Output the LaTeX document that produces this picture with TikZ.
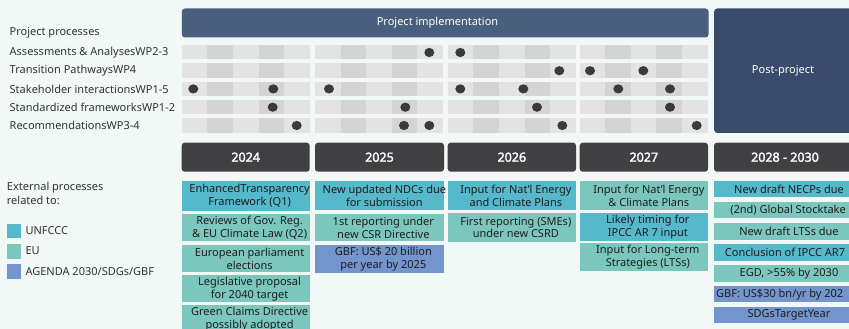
\documentclass[tikz,border=0pt]{standalone}
\usepackage{fontspec}
\setmainfont{Noto Sans}
\newfontfamily\yrfont[FakeBold=2.2]{Noto Sans}
\usetikzlibrary{calc}
\definecolor{bgc}{HTML}{F2F8F6}
\definecolor{cellA}{HTML}{E3E3E3}
\definecolor{cellB}{HTML}{D4D4D4}
\definecolor{hdrc}{HTML}{4A5E7D}
\definecolor{postc}{HTML}{394B6A}
\definecolor{yrc}{HTML}{414042}
\definecolor{unf}{HTML}{55B8CB}
\definecolor{euc}{HTML}{7CC7BD}
\definecolor{agd}{HTML}{7394CC}
\definecolor{dotcol}{HTML}{3A3A3A}
\definecolor{labc}{HTML}{333333}
\definecolor{boxc}{HTML}{1E1E1E}
\tikzset{
  lab/.style={font=\fontsize{11}{13}\selectfont, text=labc, anchor=west, inner sep=0},
  btxt/.style={font=\fontsize{11}{13}\selectfont, text=boxc, align=center, inner sep=0},
  ebx/.style={inner sep=0, anchor=north west, outer sep=0},
  yrbox/.style={fill=yrc, rounded corners=3pt, inner sep=0, outer sep=0, anchor=north west,
    minimum height=29, text=white, font=\fontsize{12.5}{14}\selectfont\yrfont},
  legsq/.style={inner sep=0, minimum size=14.5, anchor=north west},
  pdot/.style={fill=dotcol}
}
% name, colour, x, y, width, height, text dx, text
\newcommand{\exbox}[8]{%
  \node[ebx, fill=#2, minimum width=#5, minimum height=#6] (#1) at (#3,#4) {};
  \node[btxt] (#1t) at ($(#1.center)+(#7,0)$) {#8};}
\begin{document}
\begin{tikzpicture}[x=1pt,y=-1pt]
\useasboundingbox (0,0) rectangle (849,329);
\clip (0,0) rectangle (849,329);
\fill[bgc] (-2,-2) rectangle (851,331);

% headers
\node[fill=hdrc, rounded corners=3pt, anchor=north west, inner sep=0,
  minimum width=526.6, minimum height=29] (impl) at (181.7,8.3) {};
\node[font=\fontsize{11}{13}\selectfont, text=white, inner sep=0] (implt) at (437.5,22.5) {Project implementation};
\node[fill=postc, rounded corners=3pt, anchor=north west, inner sep=0,
  minimum width=160, minimum height=124.4] (post) at (714,8.3) {};
\node[font=\fontsize{11}{13}\selectfont, text=white, inner sep=0] (postt) at (783,71) {Post-project};

% grid cells
\foreach \cx in {181.7,315,447.7,579.5}{
  \foreach \ry in {45,63.3,81.7,100,118.3}{
    \foreach \k in {0,...,4}{
      \pgfmathsetmacro{\xa}{\cx+\k*25.6}
      \pgfmathsetmacro{\xb}{\cx+(\k+1)*25.6}
      \pgfmathparse{mod(\k,2)==1 ? 1 : 0}
      \ifnum\pgfmathresult=1
        \fill[cellB] (\xa,\ry) rectangle (\xb,\ry+14.4);
      \else
        \fill[cellA] (\xa,\ry) rectangle (\xb,\ry+14.4);
      \fi
    }
  }
}

% dots
\foreach \x in {429.3,460.3}{\fill[pdot] (\x,52.5) ellipse (5 and 4.6);}
\foreach \x in {559.3,590,643.3}{\fill[pdot] (\x,70.7) ellipse (5 and 4.6);}
\foreach \x in {193.3,273.3,329,460.3,523.3,618.3,670}{\fill[pdot] (\x,88.9) ellipse (5 and 4.6);}
\foreach \x in {272.7,405.3,537,670}{\fill[pdot] (\x,107.2) ellipse (5 and 4.6);}
\foreach \x in {296.7,404,429.3,562.3,696.7}{\fill[pdot] (\x,125.5) ellipse (5 and 4.6);}

% left labels
\node[lab] (pp) at (9.5,33) {Project processes};
\node[lab] (r1) at (9.5,52.5) {Assessments \& AnalysesWP2-3};
\node[lab] (r2) at (9.5,70.7) {Transition PathwaysWP4};
\node[lab] (r3) at (9.5,88.9) {Stakeholder interactionsWP1-5};
\node[lab] (r4) at (9.5,107.2) {Standardized frameworksWP1-2};
\node[lab] (r5) at (9.5,125.5) {RecommendationsWP3-4};

\node[lab] (ext1) at (6.7,187.3) {External processes};
\node[lab] (ext2) at (6.7,200.7) {related to:};
\node[legsq, fill=unf] (lg1) at (6.7,223.5) {};
\node[legsq, fill=euc] (lg2) at (6.7,244) {};
\node[legsq, fill=agd] (lg3) at (6.7,264.2) {};
\node[lab] (lg1t) at (25.3,230.5) {UNFCCC};
\node[lab] (lg2t) at (25.3,251) {EU};
\node[lab] (lg3t) at (25.3,271.5) {AGENDA 2030/SDGs/GBF};

% year headers
\node[yrbox, minimum width=128] (y1) at (181.7,142.7) {2024};
\node[yrbox, minimum width=129] (y2) at (315,142.7) {2025};
\node[yrbox, minimum width=128.3] (y3) at (447.7,142.7) {2026};
\node[yrbox, minimum width=128.3] (y4) at (579.7,142.7) {2027};
\node[yrbox, minimum width=142] (y5) at (714,142.7) {2028 - 2030};

% 2024
\exbox{e1a}{unf}{181.7}{181}{127.8}{29.7}{4}{EnhancedTransparency\\Framework (Q1)}
\exbox{e1b}{euc}{181.7}{214}{127.8}{27.3}{4}{Reviews of Gov. Reg.\\\& EU Climate Law (Q2)}
\exbox{e1c}{euc}{181.7}{244.7}{127.8}{27.6}{4}{European parliament\\elections}
\exbox{e1d}{euc}{181.7}{275}{127.8}{27.3}{4}{Legislative proposal\\for 2040 target}
\exbox{e1e}{euc}{181.7}{305}{127.8}{28}{4}{Green Claims Directive\\possibly adopted}
% 2025
\exbox{e2a}{unf}{315}{181}{128.7}{29}{5}{New updated NDCs due\\for submission}
\exbox{e2b}{euc}{315}{214}{128.7}{27.3}{4}{1st reporting under\\new CSR Directive}
\exbox{e2c}{agd}{315}{244.7}{128.7}{28}{4}{GBF: US\$ 20 billion\\per year by 2025}
% 2026
\exbox{e3a}{unf}{447.7}{181}{128.3}{29}{4}{Input for Nat'l Energy\\and Climate Plans}
\exbox{e3b}{euc}{447.7}{213.3}{128.3}{28.4}{4}{First reporting (SMEs)\\under new CSRD}
% 2027
\exbox{e4a}{euc}{579.7}{181}{128.3}{29}{5}{Input for Nat'l Energy\\\& Climate Plans}
\exbox{e4b}{unf}{579.7}{212.7}{128.3}{28}{4}{Likely timing for\\IPCC AR 7 input}
\exbox{e4c}{euc}{579.7}{243.3}{128.3}{27.7}{4}{Input for Long-term\\Strategies (LTSs)}
% 2028-2030
\exbox{e5a}{unf}{714}{181}{150}{16.3}{0}{New draft NECPs due}
\exbox{e5b}{euc}{714}{202}{150}{16.3}{-1}{(2nd) Global Stocktake}
\exbox{e5c}{euc}{714}{223.2}{150}{16.3}{0}{New draft LTSs due}
\exbox{e5d}{unf}{714}{244.2}{150}{16.3}{-4}{Conclusion of IPCC AR7}
\exbox{e5e}{euc}{714}{265.2}{150}{16.3}{0}{EGD, >55\% by 2030}
\node[ebx, fill=agd, minimum width=150, minimum height=16.3] (e5f) at (714,286) {};
\node[btxt, anchor=west] (e5ft) at ($(e5f.west)+(2,0)$) {GBF: US\$30 bn/yr by 202};
\exbox{e5g}{agd}{714}{307}{150}{16.3}{0}{SDGsTargetYear}
\end{tikzpicture}
\end{document}
